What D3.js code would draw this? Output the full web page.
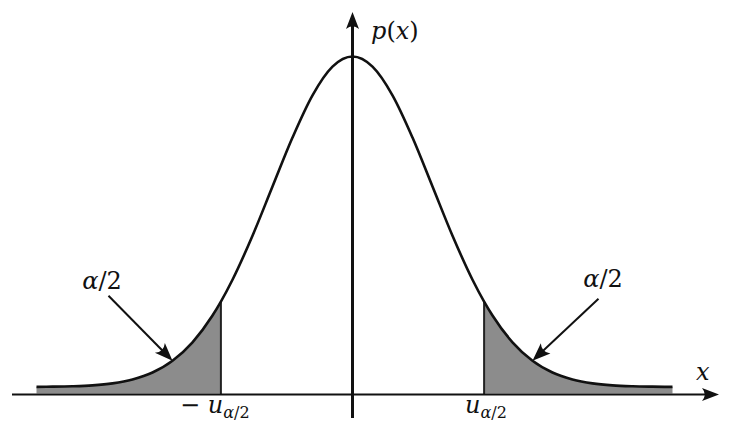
<!DOCTYPE html>
<html>
<head>
<meta charset="utf-8">
<script src="https://cdn.jsdelivr.net/npm/d3@7"></script>
<style>
  html, body { margin: 0; padding: 0; background: #fff; }
  svg { display: block; }
</style>
</head>
<body>
<svg id="chart" width="731" height="433"></svg>
<script>
// ---- data (standardised x, density p(x)) ----
const xVals = [-3.95, -3.75, -3.5, -3.25, -3.0, -2.75, -2.5, -2.25, -2.0, -1.75, -1.645, -1.5, -1.25, -1.0, -0.75, -0.5, -0.25, 0,
               0.25, 0.5, 0.75, 1.0, 1.25, 1.5, 1.645, 1.75, 2.0, 2.25, 2.5, 2.75, 3.0, 3.25, 3.5, 3.75, 4.0];
const pVals = [0.0002, 0.0004, 0.0009, 0.0020, 0.0044, 0.0091, 0.0175, 0.0317, 0.0540, 0.0863, 0.1031, 0.1295, 0.1826, 0.2420, 0.3011, 0.3521, 0.3867, 0.3989,
               0.3867, 0.3521, 0.3011, 0.2420, 0.1826, 0.1295, 0.1031, 0.0863, 0.0540, 0.0317, 0.0175, 0.0091, 0.0044, 0.0020, 0.0009, 0.0004, 0.0001];
const critical = [-1.645, 1.645];          // ±u_{α/2}
const arrowTargets = [-2.25, 2.25];        // where the α/2 arrows point on the curve
const arrowTargetP = [0.0317, 0.0317];
const tailLabel = ["α", "/2"];
const axisLabels = { x: "x", y: ["p", "(", "x", ")"] };

// ---- layout ----
const FONTS = ["DejaVu Serif", "Liberation Serif", "Noto Serif", "serif"];
const svg = d3.select("#chart");
const x = d3.scaleLinear().domain([-4, 4]).range([352.5 - 320, 352.5 + 320]);
const y = d3.scaleLinear().domain([0, 0.39894]).range([387, 56.5]);
const axisY = 394.5;
const pts = xVals.map((v, i) => ({ x: v, p: pVals[i] }));

// shaded tails
const area = d3.area().x(d => x(d.x)).y0(axisY - 1).y1(d => y(d.p)).curve(d3.curveMonotoneX);
const leftTail = pts.filter(d => d.x <= critical[0]);
const rightTail = pts.filter(d => d.x >= critical[1]);
[leftTail, rightTail].forEach(t => {
  svg.append("path").attr("d", area(t)).attr("fill", "#8c8c8c").attr("stroke", "none");
});

// critical vertical lines
critical.forEach(c => {
  svg.append("line")
    .attr("x1", x(c)).attr("x2", x(c))
    .attr("y1", axisY).attr("y2", y(pVals[xVals.indexOf(c)]))
    .attr("stroke", "#222").attr("stroke-width", 2);
});

// density curve
const line = d3.line().x(d => x(d.x)).y(d => y(d.p)).curve(d3.curveMonotoneX);
svg.append("path").attr("d", line(pts))
  .attr("fill", "none").attr("stroke", "#111").attr("stroke-width", 2.6);

// arrowhead helper (LaTeX-like stealth head), tip at (tx,ty)
function arrowHead(tx, ty, angleDeg, len, half) {
  svg.append("path")
    .attr("d", `M0,0 L${-len},${-half} Q${-len * 0.68},0 ${-len},${half} Z`)
    .attr("transform", `translate(${tx},${ty}) rotate(${angleDeg})`)
    .attr("fill", "#111");
}

// x axis
svg.append("line").attr("x1", 12).attr("x2", 712).attr("y1", axisY).attr("y2", axisY)
  .attr("stroke", "#111").attr("stroke-width", 2.2);
arrowHead(719, axisY, 0, 17, 6.5);
// y axis
const yAxisX = x(0);
svg.append("line").attr("x1", yAxisX).attr("x2", yAxisX).attr("y1", 20).attr("y2", 418)
  .attr("stroke", "#111").attr("stroke-width", 3);
arrowHead(yAxisX, 12, -90, 17, 6.5);

function txt(xp, yp, size) {
  return svg.append("text").attr("x", xp).attr("y", yp)
    .style("font-family", FONTS.map(f => f === "serif" ? f : `"${f}"`).join(", "))
    .style("font-size", size + "px").attr("fill", "#111");
}

// axis labels
txt(696, 380, 24).style("font-style", "italic").text(axisLabels.x);
const py = txt(371, 39, 24);
axisLabels.y.forEach((s, i) => {
  const t = py.append("tspan").text(s);
  if (i % 2 === 0) t.style("font-style", "italic");
});

// α/2 annotation arrows
const arrowOffsets = [[-64, -65], [66, -62]];
const labelPos = [[102, 289], [603, 287]];
arrowTargets.forEach((t, i) => {
  const tx = x(t), ty = y(arrowTargetP[i]);
  const sx = tx + arrowOffsets[i][0], sy = ty + arrowOffsets[i][1];
  const ang = Math.atan2(ty - sy, tx - sx) * 180 / Math.PI;
  const ux = (tx - sx), uy = (ty - sy), L = Math.hypot(ux, uy);
  svg.append("line").attr("x1", sx).attr("y1", sy)
    .attr("x2", tx - ux / L * 12).attr("y2", ty - uy / L * 12)
    .attr("stroke", "#111").attr("stroke-width", 2);
  arrowHead(tx, ty, ang, 18, 7);
  const lab = txt(labelPos[i][0], labelPos[i][1], 24).attr("text-anchor", "middle");
  lab.append("tspan").style("font-style", "italic").text(tailLabel[0]);
  lab.append("tspan").text(tailLabel[1]);
});

// critical value labels
critical.forEach((c, i) => {
  const t = txt(i === 0 ? 180 : 465, 413, 24);
  if (i === 0) t.append("tspan").text("− ");
  t.append("tspan").style("font-style", "italic").text("u");
  t.append("tspan").style("font-size", "16px").attr("dy", 5).style("font-style", "italic").text("α");
  t.append("tspan").style("font-size", "16px").text("/2");
});
</script>
</body>
</html>
